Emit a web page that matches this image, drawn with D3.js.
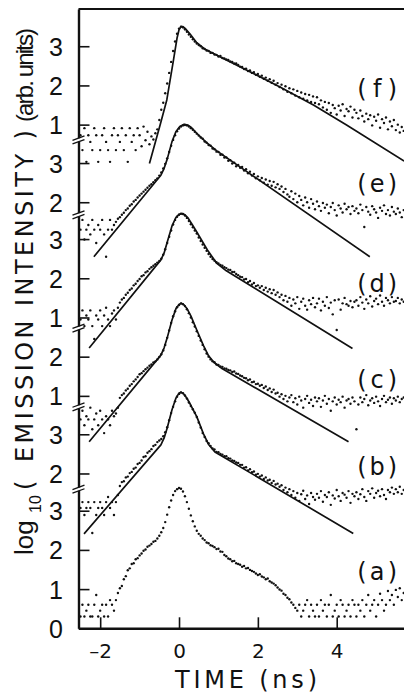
<!DOCTYPE html>
<html>
<head>
<meta charset="utf-8">
<script src="https://cdn.jsdelivr.net/npm/d3@7"></script>
<style>
body{margin:0;background:#fff;}
svg{display:block;}
</style>
</head>
<body>
<div id="chart"></div>
<script>
//Time channels of the measured decays (ns)
const channelStart = -2.5;
const channelStep = 0.05;

//log10 emission intensity per channel, one array per curve
const dotsA = [
	0.30,0.60,0.30,0.45,0.60,0.30,0.30,0.60,0.85,0.30,0.45,0.60,0.30,0.60,0.30,0.72,0.60,0.45,0.72,0.90,
	1.02,1.08,1.25,1.33,1.48,1.53,1.64,1.66,1.76,1.79,1.86,1.91,1.98,2.01,2.08,2.11,2.15,2.21,2.23,2.29,
	2.36,2.45,2.56,2.71,2.90,3.09,3.26,3.40,3.50,3.55,3.58,3.56,3.49,3.37,3.22,3.05,2.88,2.73,2.60,2.49,
	2.41,2.36,2.29,2.25,2.19,2.17,2.12,2.10,2.07,2.02,2.03,1.96,1.95,1.87,1.84,1.78,1.76,1.71,1.72,1.66,
	1.64,1.62,1.57,1.59,1.53,1.54,1.49,1.46,1.44,1.40,1.36,1.38,1.32,1.30,1.25,1.27,1.20,1.17,1.14,1.10,
	1.04,0.99,0.96,0.88,0.85,0.78,0.74,0.66,0.60,0.52,0.45,0.60,0.30,0.45,0.60,0.72,0.30,0.60,0.45,0.30,
	0.60,0.30,0.72,0.45,0.60,0.30,0.60,0.85,0.30,0.45,0.60,0.30,0.72,0.60,0.30,0.45,0.60,0.30,0.72,0.60,
	0.30,0.60,0.45,0.72,0.30,0.60,0.85,0.45,0.60,0.72,0.30,0.60,0.88,0.72,0.45,0.60,0.95,0.72,0.85,0.60,
	0.98,0.80,1.02,0.72,0.90
];
const dotsB = [
	1.12,1.27,0.94,1.12,1.27,1.12,0.48,1.27,0.94,1.12,1.27,1.12,0.94,1.27,1.40,1.12,1.27,0.94,1.27,1.45,
	1.68,1.78,1.80,1.90,1.92,2.01,2.04,2.12,2.15,2.24,2.27,2.33,2.42,2.44,2.53,2.57,2.62,2.70,2.73,2.80,
	2.84,2.88,2.95,3.05,3.18,3.36,3.54,3.70,3.84,3.96,4.03,4.07,4.05,3.99,3.91,3.81,3.72,3.64,3.55,3.44,
	3.30,3.17,3.03,2.93,2.83,2.77,2.70,2.64,2.61,2.55,2.54,2.50,2.48,2.44,2.44,2.39,2.38,2.33,2.32,2.28,
	2.27,2.22,2.22,2.15,2.16,2.08,2.11,2.03,2.05,1.97,1.99,1.92,1.95,1.86,1.90,1.82,1.84,1.76,1.81,1.72,
	1.74,1.66,1.70,1.58,1.64,1.52,1.60,1.45,1.55,1.38,1.50,1.30,1.47,1.56,1.35,1.44,1.22,1.50,1.40,1.33,
	1.48,1.38,1.55,1.28,1.45,1.40,1.52,1.20,1.44,1.36,1.58,1.42,1.30,1.50,1.46,1.38,1.55,1.25,1.48,1.42,
	1.52,1.35,1.47,1.60,1.40,1.30,1.55,1.48,1.62,1.38,1.50,1.56,1.42,1.60,1.45,1.35,1.58,1.52,1.64,1.48,
	1.60,1.52,1.66,1.48,1.58
];
const dotsC = [
	0.40,0.62,0.25,0.48,0.40,0.70,0.15,0.40,0.55,0.25,0.62,0.40,0.05,0.48,0.40,0.25,0.62,0.48,0.55,0.70,
	0.95,1.02,1.06,1.14,1.18,1.26,1.30,1.37,1.42,1.48,1.55,1.58,1.63,1.68,1.72,1.77,1.80,1.85,1.88,1.93,
	1.99,2.06,2.16,2.30,2.48,2.67,2.86,3.03,3.16,3.26,3.32,3.36,3.34,3.29,3.21,3.11,3.00,2.88,2.77,2.65,
	2.53,2.41,2.30,2.19,2.08,2.00,1.93,1.88,1.86,1.80,1.79,1.75,1.74,1.70,1.69,1.66,1.65,1.61,1.62,1.57,
	1.56,1.52,1.50,1.46,1.45,1.40,1.42,1.35,1.36,1.30,1.31,1.26,1.28,1.20,1.24,1.15,1.19,1.10,1.16,1.06,
	1.08,0.98,1.04,0.92,1.00,0.86,0.96,1.02,0.84,0.94,0.78,0.98,0.88,0.70,0.92,1.00,0.82,0.90,0.74,0.96,
	0.86,0.94,0.72,0.88,1.00,0.80,0.92,0.62,0.86,0.96,0.78,0.90,0.84,0.98,0.70,0.88,0.92,0.80,0.96,0.86,
	0.15,0.78,0.96,0.84,0.92,1.02,0.76,0.88,0.94,0.82,0.98,0.86,0.74,0.92,1.00,0.84,0.90,0.96,0.80,0.94,
	0.88,0.98,0.84,0.92,0.96
];
const dotsD = [
	0.95,1.18,0.78,1.05,0.95,1.18,0.78,0.45,1.05,0.95,1.18,0.78,1.05,1.25,0.95,0.78,1.10,1.18,0.95,1.25,
	1.38,1.46,1.50,1.58,1.63,1.70,1.74,1.82,1.86,1.93,1.98,2.05,2.08,2.15,2.18,2.24,2.28,2.32,2.36,2.40,
	2.44,2.50,2.60,2.74,2.90,3.06,3.22,3.37,3.49,3.57,3.62,3.65,3.64,3.60,3.54,3.46,3.38,3.30,3.22,3.14,
	3.04,2.95,2.86,2.78,2.70,2.62,2.55,2.49,2.45,2.41,2.38,2.34,2.32,2.28,2.26,2.22,2.21,2.16,2.16,2.11,
	2.08,2.04,2.03,1.97,1.98,1.90,1.93,1.84,1.88,1.80,1.82,1.76,1.80,1.70,1.76,1.66,1.72,1.62,1.70,1.58,
	1.64,1.52,1.58,1.44,1.55,1.40,1.50,1.30,1.46,1.36,1.52,1.22,1.40,1.48,1.30,1.20,1.44,1.34,1.50,1.26,
	1.36,1.48,1.18,1.40,1.30,1.52,1.24,1.38,1.08,1.44,0.68,1.46,1.20,1.36,1.50,1.34,1.30,1.42,1.26,1.40,
	1.44,1.30,1.52,1.38,1.22,1.46,1.36,1.54,1.28,1.42,1.48,1.34,1.56,1.40,1.30,1.50,1.44,1.36,1.52,1.40,
	1.42,1.50,1.36,1.46,1.40
];
const dotsE = [
	1.30,1.55,1.05,1.30,1.42,1.18,1.55,1.30,0.96,1.42,1.30,1.55,1.18,0.61,1.30,1.55,1.30,1.42,1.50,1.58,
	1.62,1.68,1.73,1.80,1.84,1.91,1.95,2.02,2.06,2.12,2.17,2.22,2.27,2.32,2.37,2.42,2.46,2.51,2.56,2.61,
	2.68,2.76,2.86,2.98,3.12,3.28,3.44,3.59,3.71,3.81,3.88,3.93,3.96,3.97,3.96,3.93,3.89,3.85,3.80,3.75,
	3.70,3.65,3.62,3.55,3.52,3.46,3.44,3.37,3.35,3.29,3.28,3.21,3.21,3.14,3.14,3.06,3.07,2.99,3.01,2.92,
	2.95,2.88,2.90,2.81,2.84,2.74,2.78,2.68,2.72,2.61,2.66,2.56,2.62,2.50,2.58,2.45,2.54,2.42,2.52,2.38,
	2.46,2.34,2.40,2.26,2.34,2.20,2.14,2.28,2.08,2.22,2.00,2.16,2.06,1.92,2.12,2.00,1.86,2.08,1.96,1.82,
	2.02,1.90,1.78,1.98,1.86,1.94,1.72,1.88,1.98,1.80,1.66,1.92,1.84,1.74,1.96,1.82,1.88,1.70,1.90,1.78,
	1.84,1.72,1.94,1.80,1.37,1.88,1.76,1.68,1.90,1.82,1.74,1.60,1.86,1.78,1.92,1.70,1.80,1.66,1.88,1.76,
	1.70,1.84,1.74,1.62,1.80
];
const dotsF = [
	0.73,0.35,0.91,0.05,0.73,0.56,0.35,0.91,0.73,0.05,0.35,0.73,0.91,0.56,0.35,0.05,0.73,0.91,0.35,0.73,
	0.56,0.91,0.35,0.73,0.05,0.91,0.56,0.73,0.35,0.91,0.73,0.45,0.95,0.60,0.82,0.50,0.70,0.62,0.78,0.88,
	1.12,1.38,1.56,1.80,2.05,2.32,2.60,2.88,3.12,3.32,3.45,3.50,3.48,3.43,3.37,3.30,3.24,3.18,3.12,3.07,
	3.03,3.00,2.95,2.93,2.89,2.88,2.83,2.83,2.79,2.78,2.74,2.75,2.70,2.69,2.66,2.65,2.61,2.60,2.56,2.56,
	2.52,2.48,2.47,2.42,2.43,2.37,2.38,2.32,2.34,2.27,2.29,2.22,2.25,2.17,2.20,2.12,2.16,2.07,2.12,2.02,
	2.06,1.96,2.02,1.90,1.98,1.84,1.93,1.80,1.90,1.74,1.86,1.70,1.82,1.66,1.78,1.62,1.76,1.58,1.72,1.55,
	1.70,1.52,1.62,1.44,1.58,1.38,1.55,1.30,1.50,1.42,1.26,1.48,1.36,1.52,1.22,1.40,1.34,1.46,1.18,1.38,
	1.30,1.16,1.36,1.22,1.08,1.28,1.14,1.24,0.98,1.20,1.10,1.26,0.92,1.14,1.04,1.18,0.88,1.08,0.96,1.12,
	0.86,1.00,0.80,0.94,0.84
];

//Fitted curves: [time (ns), log10 intensity]
const fitB = [[-2.41,0.46],[-0.46,2.73],[-0.38,2.90],[-0.30,3.16],[-0.18,3.62],[-0.08,3.92],[0.0,4.05],[0.05,4.07],[0.12,4.03],[0.2,3.92],[0.3,3.74],[0.45,3.45],[0.62,3.01],[0.75,2.74],[0.91,2.55],[4.42,0.47]];
const fitC = [[-2.28,-0.17],[-0.46,2.04],[-0.38,2.22],[-0.30,2.48],[-0.18,2.93],[-0.08,3.22],[0.0,3.33],[0.06,3.36],[0.13,3.32],[0.2,3.23],[0.3,3.04],[0.45,2.68],[0.62,2.28],[0.75,2.02],[0.89,1.85],[1.1,1.69],[4.3,-0.17]];
const fitD = [[-2.28,0.22],[-0.46,2.47],[-0.38,2.64],[-0.30,2.92],[-0.18,3.33],[-0.08,3.55],[0.0,3.63],[0.08,3.65],[0.15,3.62],[0.22,3.55],[0.33,3.38],[0.45,3.18],[0.72,2.72],[0.96,2.38],[1.2,2.19],[4.4,0.21]];
const fitE = [[-2.16,0.61],[-0.46,2.69],[-0.38,2.86],[-0.30,3.10],[-0.18,3.54],[-0.08,3.80],[0.02,3.93],[0.13,3.99],[0.22,3.97],[0.32,3.90],[0.45,3.76],[0.7,3.52],[0.96,3.31],[4.84,0.61]];
const fitF = [[-0.75,0.01],[-0.48,0.99],[-0.31,1.63],[-0.14,2.65],[-0.05,3.21],[0.0,3.42],[0.05,3.50],[0.1,3.50],[0.17,3.44],[0.28,3.31],[0.45,3.09],[0.65,2.93],[0.96,2.77],[1.72,2.39],[2.56,1.96],[3.41,1.50],[4.25,0.99],[5.71,0.07]];

//Curves: name, vertical shift (decades), sub-axis tick labels, level of the (x) tag
const curveNames = ['a','b','c','d','e','f'];
const curveOffsets = [0, 1.95, 4.93, 6.93, 8.87, 11.85];
const curveTicks = [[0,1,2,3],[2,3],[1,2],[1,2,3],[2,3],[1,2,3]];
const curveTagLevels = [1.46, 2.19, 1.41, 1.88, 2.49, 1.93];
const curveDots = [dotsA, dotsB, dotsC, dotsD, dotsE, dotsF];
const curveFits = [null, fitB, fitC, fitD, fitE, fitF];

//axis breaks between the sub-axes (stacked decades)
const axisBreaks = [3.55, 5.65, 7.66, 10.55, 12.46];
const timeTicks = [-2, 0, 2, 4];

//Set up DOM scaffolding
const width = 404, height = 695;
const svg = d3.select('#chart')
	.append('svg')
	.attr('width', width)
	.attr('height', height);

const x = d3.scaleLinear().domain([-2.55, 5.707]).range([78.5, 404]);
const y = d3.scaleLinear().domain([0, 15.8]).range([628.3, 9]);

svg.append('clipPath').attr('id', 'plot-clip')
	.append('rect')
	.attr('x', x.range()[0]).attr('y', y.range()[1])
	.attr('width', x.range()[1] - x.range()[0])
	.attr('height', y.range()[0] - y.range()[1]);

const plot = svg.append('g').attr('clip-path', 'url(#plot-clip)');

//Dots and fitted lines
const line = d3.line()
	.x(d => x(d[0]))
	.curve(d3.curveLinear);

curveNames.forEach((name, i) => {
	const off = curveOffsets[i];
	const pts = curveDots[i].map((v, k) => ({t: channelStart + channelStep * k, u: v + off}));

	plot.append('g')
		.attr('class', 'dots-' + name)
		.selectAll('circle')
		.data(pts)
		.enter()
		.append('circle')
		.attr('cx', d => x(d.t))
		.attr('cy', d => y(d.u))
		.attr('r', 1.2)
		.style('fill', '#111');

	if (curveFits[i]) {
		plot.append('path')
			.datum(curveFits[i])
			.attr('d', line.y(d => y(d[1] + off)))
			.style('fill', 'none')
			.style('stroke', '#111')
			.style('stroke-width', 1.7)
			.style('stroke-linejoin', 'round');
	}

	svg.append('text')
		.attr('x', x(4.52))
		.attr('y', y(curveTagLevels[i] + off))
		.attr('dy', '0.36em')
		.attr('textLength', 40)
		.attr('lengthAdjust', 'spacing')
		.style('font-family', 'DejaVu Sans, sans-serif')
		.style('font-size', '24px')
		.style('fill', '#111')
		.text('(' + name + ')');
});

//Axes
const axisX = d3.axisBottom(x)
	.tickValues(timeTicks)
	.tickSize(-11)
	.tickSizeOuter(0)
	.tickPadding(16)
	.tickFormat(d => d < 0 ? '\u2013' + Math.abs(d) : String(d));

const axisXNode = svg.append('g')
	.attr('transform', `translate(0,${y.range()[0]})`)
	.call(axisX);

const yTickU = [], yTickLabel = [];
curveTicks.forEach((ticks, i) => ticks.forEach(v => {
	yTickU.push(v + curveOffsets[i]);
	yTickLabel.push(v);
}));

const axisY = d3.axisLeft(y)
	.tickValues(yTickU)
	.tickSize(-11)
	.tickSizeOuter(0)
	.tickPadding(15.5)
	.tickFormat((d, i) => yTickLabel[i]);

const axisYNode = svg.append('g')
	.attr('transform', `translate(${x.range()[0]},0)`)
	.call(axisY);

axisXNode.selectAll('text')
	.style('font-family', 'DejaVu Sans, sans-serif')
	.style('font-size', '20px')
	.style('fill', '#111');
axisYNode.selectAll('text')
	.attr('dy', '0.36em')
	.style('font-family', 'Liberation Sans, Arial, sans-serif')
	.style('font-size', '25px')
	.style('fill', '#111');
svg.selectAll('.tick line').style('stroke', '#111').style('stroke-width', 1.6);
svg.selectAll('.domain').style('stroke', '#111').style('stroke-width', 2.4);

//top frame
svg.append('line')
	.attr('x1', x.range()[0]).attr('x2', x.range()[1])
	.attr('y1', y.range()[1]).attr('y2', y.range()[1])
	.style('stroke', '#111')
	.style('stroke-width', 2.2);

//axis breaks
const breakNode = svg.selectAll('.break')
	.data(axisBreaks)
	.enter()
	.append('g')
	.attr('class', 'break')
	.attr('transform', d => `translate(${x.range()[0]},${y(d)})`);
breakNode.append('rect')
	.attr('x', -3).attr('y', -1.6)
	.attr('width', 6).attr('height', 3.2)
	.style('fill', '#fff');
[-1.8, 1.8].forEach(o => {
	breakNode.append('line')
		.attr('x1', -6).attr('y1', o + 2.2)
		.attr('x2', 6).attr('y2', o - 2.2)
		.style('stroke', '#111')
		.style('stroke-width', 1.3);
});

//Axis titles
svg.append('text')
	.attr('x', 175)
	.attr('y', 688)
	.attr('textLength', 142)
	.attr('lengthAdjust', 'spacing')
	.style('font-family', 'DejaVu Sans, sans-serif')
	.style('font-size', '24px')
	.style('fill', '#111')
	.text('TIME (ns)');

const titleParts = [
	{text: 'log', at: 555, base: 33, font: 'Liberation Sans, Arial, sans-serif', size: 26},
	{text: '10', at: 513, base: 41, font: 'Liberation Sans, Arial, sans-serif', size: 16},
	{text: '(', at: 490, base: 33, font: 'DejaVu Sans, sans-serif', size: 24},
	{text: 'EMISSION INTENSITY )', at: 462, base: 33, font: 'DejaVu Sans, sans-serif', size: 24, len: 332},
	{text: '(arb. units)', at: 122, base: 33, font: 'Liberation Sans, Arial, sans-serif', size: 24, len: 94}
];
titleParts.forEach(p => {
	const t = svg.append('text')
		.attr('transform', `translate(${p.base},${p.at}) rotate(-90)`)
		.style('font-family', p.font)
		.style('font-size', p.size + 'px')
		.style('fill', '#111')
		.text(p.text);
	if (p.len) t.attr('textLength', p.len).attr('lengthAdjust', 'spacing');
});
</script>
</body>
</html>
